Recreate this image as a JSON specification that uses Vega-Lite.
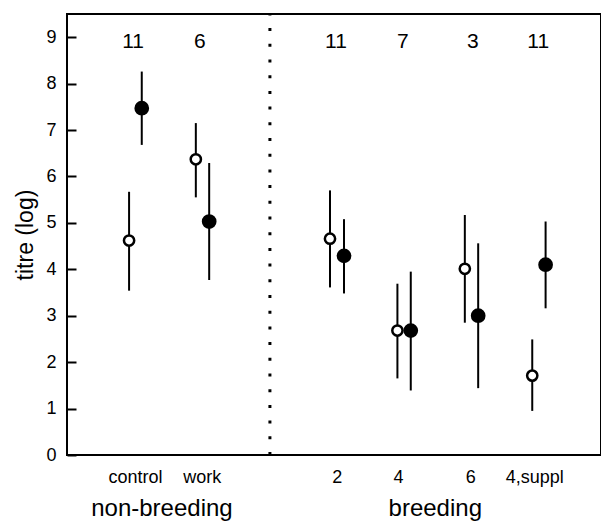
{
  "$schema": "https://vega.github.io/schema/vega-lite/v6.json",
  "width": 534,
  "height": 441,
  "autosize": "none",
  "padding": {"left": 67, "top": 14, "right": 0, "bottom": 66},
  "background": "white",
  "config": {
    "font": "Liberation Sans",
    "view": {"stroke": "black", "strokeWidth": 2}
  },
  "datasets": {
    "pts": [
      {"group": "control", "state": "open", "x": 0.93, "m": 4.62, "lo": 3.54, "hi": 5.67},
      {"group": "control", "state": "filled", "x": 1.12, "m": 7.47, "lo": 6.68, "hi": 8.26},
      {"group": "work", "state": "open", "x": 1.93, "m": 6.37, "lo": 5.55, "hi": 7.15},
      {"group": "work", "state": "filled", "x": 2.13, "m": 5.03, "lo": 3.77, "hi": 6.29},
      {"group": "2", "state": "open", "x": 3.94, "m": 4.66, "lo": 3.61, "hi": 5.70},
      {"group": "2", "state": "filled", "x": 4.15, "m": 4.29, "lo": 3.48, "hi": 5.08},
      {"group": "4", "state": "open", "x": 4.95, "m": 2.68, "lo": 1.65, "hi": 3.69},
      {"group": "4", "state": "filled", "x": 5.15, "m": 2.68, "lo": 1.39, "hi": 3.95},
      {"group": "6", "state": "open", "x": 5.96, "m": 4.01, "lo": 2.85, "hi": 5.17},
      {"group": "6", "state": "filled", "x": 6.16, "m": 3.0, "lo": 1.44, "hi": 4.56},
      {"group": "4,suppl", "state": "open", "x": 6.97, "m": 1.71, "lo": 0.95, "hi": 2.49},
      {"group": "4,suppl", "state": "filled", "x": 7.17, "m": 4.10, "lo": 3.16, "hi": 5.03}
    ],
    "ns": [
      {"group": "control", "x": 0.99, "n": 11},
      {"group": "work", "x": 1.99, "n": 6},
      {"group": "2", "x": 4.03, "n": 11},
      {"group": "4", "x": 5.03, "n": 7},
      {"group": "6", "x": 6.08, "n": 3},
      {"group": "4,suppl", "x": 7.06, "n": 11}
    ]
  },
  "resolve": {"axis": {"x": "independent"}},
  "layer": [
    {
      "data": {"name": "pts"},
      "mark": {"type": "rule", "color": "black", "strokeWidth": 2},
      "encoding": {
        "x": {
          "field": "x", "type": "quantitative",
          "scale": {"domain": [0, 8], "nice": false, "zero": false},
          "axis": {
            "orient": "bottom",
            "title": null,
            "values": [1.02, 2.02, 4.04, 4.96, 6.04, 7.0],
            "labelExpr": "datum.value < 1.5 ? 'control' : datum.value < 3 ? 'work' : datum.value < 4.5 ? '2' : datum.value < 5.5 ? '4' : datum.value < 6.5 ? '6' : '4,suppl'",
            "ticks": false, "grid": false, "domain": false,
            "labelFontSize": 18, "labelColor": "black", "labelPadding": 13,
            "labelFlush": false, "labelOverlap": false
          }
        },
        "y": {
          "field": "lo", "type": "quantitative",
          "scale": {"domain": [0, 9.5], "nice": false},
          "axis": {
            "title": "titre (log)",
            "titleFontSize": 23, "titleFontWeight": "normal", "titleColor": "black", "titlePadding": 8,
            "values": [0, 1, 2, 3, 4, 5, 6, 7, 8, 9],
            "grid": false, "domain": false,
            "tickSize": -9, "tickWidth": 2, "tickColor": "black",
            "labelFontSize": 18, "labelColor": "black", "labelPadding": 20
          }
        },
        "y2": {"field": "hi"}
      }
    },
    {
      "data": {"name": "pts"},
      "mark": {"type": "point", "shape": "circle", "stroke": "black", "strokeWidth": 2.5, "opacity": 1},
      "encoding": {
        "x": {"field": "x", "type": "quantitative", "axis": null},
        "y": {"field": "m", "type": "quantitative"},
        "fill": {"field": "state", "type": "nominal", "scale": {"domain": ["open", "filled"], "range": ["white", "black"]}, "legend": null},
        "size": {"field": "state", "type": "nominal", "scale": {"domain": ["open", "filled"], "range": [105, 150]}, "legend": null}
      }
    },
    {
      "data": {"values": [{}]},
      "mark": {"type": "rule", "color": "black", "strokeWidth": 3, "strokeDash": [3, 12.7]},
      "encoding": {
        "x": {"datum": 3.04, "type": "quantitative", "axis": null},
        "y": {"datum": 0, "type": "quantitative"},
        "y2": {"datum": 9.5}
      }
    },
    {
      "data": {"name": "ns"},
      "mark": {"type": "text", "fontSize": 21, "color": "black", "baseline": "middle", "align": "center"},
      "encoding": {
        "x": {
          "field": "x", "type": "quantitative",
          "axis": {
            "orient": "bottom",
            "title": null,
            "values": [1.415, 5.51],
            "labelExpr": "datum.value < 3 ? 'non-breeding' : 'breeding'",
            "ticks": false, "grid": false, "domain": false,
            "labelFontSize": 24, "labelColor": "black", "labelPadding": 41,
            "labelFlush": false, "labelOverlap": false
          }
        },
        "y": {"datum": 8.9},
        "text": {"field": "n", "type": "quantitative"}
      }
    }
  ]
}
